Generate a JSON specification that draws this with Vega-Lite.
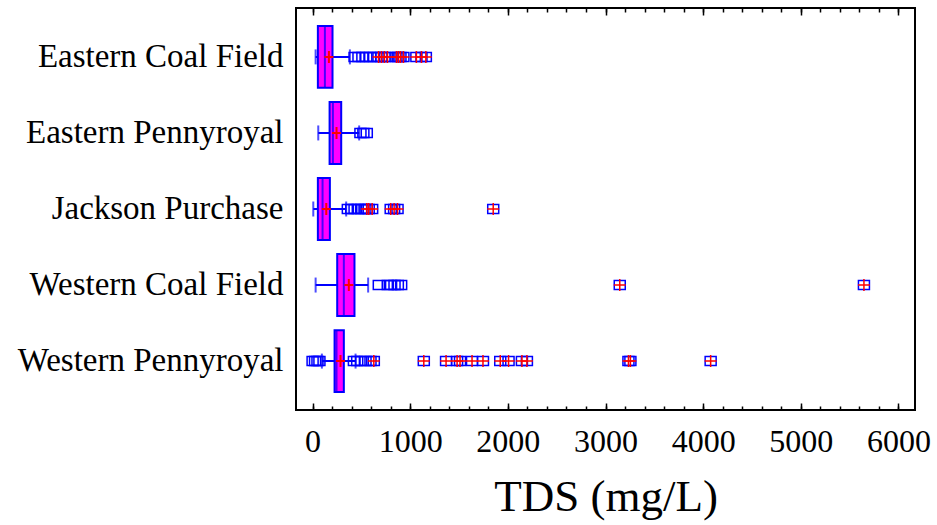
{
  "$schema": "https://vega.github.io/schema/vega-lite/v6.json",
  "width": 619,
  "height": 402,
  "autosize": {"type": "none"},
  "padding": {"left": 296, "top": 8, "right": 22, "bottom": 115},
  "background": "white",
  "config": {
    "font": "Liberation Serif",
    "axis": {"labelFont": "Liberation Serif", "titleFont": "Liberation Serif", "labelColor": "black", "titleColor": "black", "grid": false},
    "view": {"stroke": "black", "strokeWidth": 2}
  },
  "datasets": {
    "stats": [
      {"region": "Eastern Coal Field", "lo": 31, "q1": 54, "med": 126, "q3": 204, "hi": 382, "mean": 167},
      {"region": "Eastern Pennyroyal", "lo": 58, "q1": 174, "med": 208, "q3": 293, "hi": 477, "mean": 245},
      {"region": "Jackson Purchase", "lo": 7, "q1": 54, "med": 102, "q3": 177, "hi": 344, "mean": 140},
      {"region": "Western Coal Field", "lo": 31, "q1": 252, "med": 320, "q3": 429, "hi": 569, "mean": 371},
      {"region": "Western Pennyroyal", "lo": 95, "q1": 225, "med": 245, "q3": 320, "hi": 440, "mean": 286}
    ],
    "out": [
      {"region": "Eastern Coal Field", "v": 430, "far": false},
      {"region": "Eastern Coal Field", "v": 470, "far": false},
      {"region": "Eastern Coal Field", "v": 510, "far": false},
      {"region": "Eastern Coal Field", "v": 550, "far": false},
      {"region": "Eastern Coal Field", "v": 590, "far": false},
      {"region": "Eastern Coal Field", "v": 630, "far": false},
      {"region": "Eastern Coal Field", "v": 675, "far": true},
      {"region": "Eastern Coal Field", "v": 705, "far": true},
      {"region": "Eastern Coal Field", "v": 736, "far": true},
      {"region": "Eastern Coal Field", "v": 767, "far": true},
      {"region": "Eastern Coal Field", "v": 859, "far": true},
      {"region": "Eastern Coal Field", "v": 879, "far": true},
      {"region": "Eastern Coal Field", "v": 900, "far": true},
      {"region": "Eastern Coal Field", "v": 930, "far": true},
      {"region": "Eastern Coal Field", "v": 1063, "far": true},
      {"region": "Eastern Coal Field", "v": 1115, "far": true},
      {"region": "Eastern Coal Field", "v": 1160, "far": true},
      {"region": "Eastern Pennyroyal", "v": 490, "far": false},
      {"region": "Eastern Pennyroyal", "v": 520, "far": false},
      {"region": "Eastern Pennyroyal", "v": 555, "far": false},
      {"region": "Jackson Purchase", "v": 361, "far": false},
      {"region": "Jackson Purchase", "v": 396, "far": false},
      {"region": "Jackson Purchase", "v": 430, "far": false},
      {"region": "Jackson Purchase", "v": 463, "far": false},
      {"region": "Jackson Purchase", "v": 498, "far": false},
      {"region": "Jackson Purchase", "v": 532, "far": false},
      {"region": "Jackson Purchase", "v": 555, "far": true},
      {"region": "Jackson Purchase", "v": 575, "far": true},
      {"region": "Jackson Purchase", "v": 610, "far": true},
      {"region": "Jackson Purchase", "v": 800, "far": true},
      {"region": "Jackson Purchase", "v": 835, "far": true},
      {"region": "Jackson Purchase", "v": 870, "far": true},
      {"region": "Jackson Purchase", "v": 1850, "far": true},
      {"region": "Western Coal Field", "v": 678, "far": false},
      {"region": "Western Coal Field", "v": 770, "far": false},
      {"region": "Western Coal Field", "v": 804, "far": false},
      {"region": "Western Coal Field", "v": 839, "far": false},
      {"region": "Western Coal Field", "v": 873, "far": false},
      {"region": "Western Coal Field", "v": 907, "far": false},
      {"region": "Western Coal Field", "v": 3146, "far": true},
      {"region": "Western Coal Field", "v": 5647, "far": true},
      {"region": "Western Pennyroyal", "v": 0, "far": false},
      {"region": "Western Pennyroyal", "v": 25, "far": false},
      {"region": "Western Pennyroyal", "v": 50, "far": false},
      {"region": "Western Pennyroyal", "v": 70, "far": false},
      {"region": "Western Pennyroyal", "v": 423, "far": false},
      {"region": "Western Pennyroyal", "v": 457, "far": false},
      {"region": "Western Pennyroyal", "v": 498, "far": false},
      {"region": "Western Pennyroyal", "v": 542, "far": false},
      {"region": "Western Pennyroyal", "v": 593, "far": false},
      {"region": "Western Pennyroyal", "v": 627, "far": true},
      {"region": "Western Pennyroyal", "v": 1139, "far": true},
      {"region": "Western Pennyroyal", "v": 1367, "far": true},
      {"region": "Western Pennyroyal", "v": 1480, "far": true},
      {"region": "Western Pennyroyal", "v": 1510, "far": true},
      {"region": "Western Pennyroyal", "v": 1633, "far": true},
      {"region": "Western Pennyroyal", "v": 1745, "far": true},
      {"region": "Western Pennyroyal", "v": 1922, "far": true},
      {"region": "Western Pennyroyal", "v": 2007, "far": true},
      {"region": "Western Pennyroyal", "v": 2144, "far": true},
      {"region": "Western Pennyroyal", "v": 2195, "far": true},
      {"region": "Western Pennyroyal", "v": 3235, "far": true},
      {"region": "Western Pennyroyal", "v": 3255, "far": true},
      {"region": "Western Pennyroyal", "v": 4077, "far": true}
    ]
  },
  "encoding": {
    "y": {
      "field": "region", "type": "nominal",
      "scale": {"domain": ["Eastern Coal Field", "Eastern Pennyroyal", "Jackson Purchase", "Western Coal Field", "Western Pennyroyal"], "paddingInner": 0.186, "paddingOuter": 0.236},
      "axis": {"title": null, "ticks": false, "domain": false, "labelFontSize": 33, "labelPadding": 13, "labelLimit": 400}
    }
  },
  "resolve": {"axis": {"x": "independent"}},
  "layer": [
    {
      "data": {"name": "stats"},
      "mark": {"type": "rule", "color": "#0000ff", "strokeWidth": 2},
      "encoding": {
        "x": {"field": "lo", "type": "quantitative", "scale": {"domain": [-170, 6170], "nice": false, "zero": false},
          "axis": {"orient": "bottom", "title": null, "labels": false, "domain": false, "ticks": true, "tickSize": 7, "tickWidth": 1.5, "tickColor": "black", "offset": -7,
            "values": [0, 1000, 2000, 3000, 4000, 5000, 6000]}},
        "x2": {"field": "hi"}
      }
    },
    {
      "data": {"name": "stats"},
      "mark": {"type": "bar", "fill": "#ff00ff", "stroke": "#0000ff", "strokeWidth": 2},
      "encoding": {
        "x": {"field": "q1", "type": "quantitative", "scale": {"domain": [-170, 6170], "nice": false, "zero": false},
          "axis": {"orient": "bottom", "title": "TDS (mg/L)", "titleFontSize": 45, "titleFontWeight": "normal", "titleBaseline": "alphabetic", "titleY": 100,
            "format": "d", "labelFontSize": 32, "labelPadding": 16, "labelFlush": false, "labelOverlap": false, "ticks": false, "domain": false,
            "values": [0, 1000, 2000, 3000, 4000, 5000, 6000]}},
        "x2": {"field": "q3"}
      }
    },
    {
      "data": {"name": "stats"},
      "mark": {"type": "tick", "color": "#0000ff", "size": 62, "thickness": 2},
      "encoding": {
        "x": {"field": "med", "type": "quantitative", "scale": {"domain": [-170, 6170], "nice": false, "zero": false},
          "axis": {"orient": "bottom", "title": null, "labels": false, "domain": false, "ticks": true, "tickSize": 4, "tickWidth": 1.5, "tickColor": "black", "offset": -4,
            "values": [0, 200, 400, 600, 800, 1000, 1200, 1400, 1600, 1800, 2000, 2200, 2400, 2600, 2800, 3000, 3200, 3400, 3600, 3800, 4000, 4200, 4400, 4600, 4800, 5000, 5200, 5400, 5600, 5800, 6000]}}
      }
    },
    {
      "data": {"name": "stats"},
      "mark": {"type": "tick", "color": "#0000ff", "size": 15, "thickness": 2},
      "encoding": {
        "x": {"field": "lo", "type": "quantitative", "scale": {"domain": [-170, 6170], "nice": false, "zero": false},
          "axis": {"orient": "top", "title": null, "labels": false, "domain": false, "ticks": true, "tickSize": 7, "tickWidth": 1.5, "tickColor": "black", "offset": -7,
            "values": [0, 1000, 2000, 3000, 4000, 5000, 6000]}}
      }
    },
    {
      "data": {"name": "stats"},
      "mark": {"type": "tick", "color": "#0000ff", "size": 15, "thickness": 2},
      "encoding": {
        "x": {"field": "hi", "type": "quantitative", "scale": {"domain": [-170, 6170], "nice": false, "zero": false},
          "axis": {"orient": "top", "title": null, "labels": false, "domain": false, "ticks": true, "tickSize": 4, "tickWidth": 1.5, "tickColor": "black", "offset": -4,
            "values": [0, 200, 400, 600, 800, 1000, 1200, 1400, 1600, 1800, 2000, 2200, 2400, 2600, 2800, 3000, 3200, 3400, 3600, 3800, 4000, 4200, 4400, 4600, 4800, 5000, 5200, 5400, 5600, 5800, 6000]}}
      }
    },
    {
      "data": {"name": "out"},
      "mark": {"type": "point", "shape": "M-1,-0.82H1V0.82H-1Z", "filled": false, "stroke": "#0000ff", "strokeWidth": 1.5, "size": 121, "opacity": 1},
      "encoding": {
        "x": {"field": "v", "type": "quantitative", "scale": {"domain": [-170, 6170], "nice": false, "zero": false}, "axis": null}
      }
    },
    {
      "data": {"name": "out"},
      "transform": [{"filter": "datum.far"}],
      "mark": {"type": "point", "shape": "M-1,0H1M0,-1V1", "filled": false, "stroke": "#ff0000", "strokeWidth": 1.5, "size": 144, "opacity": 1},
      "encoding": {
        "x": {"field": "v", "type": "quantitative", "scale": {"domain": [-170, 6170], "nice": false, "zero": false}, "axis": null}
      }
    },
    {
      "data": {"name": "stats"},
      "mark": {"type": "point", "shape": "M-0.75,0H0.75M0,-1V1", "filled": false, "stroke": "#ff0000", "strokeWidth": 2, "size": 144, "opacity": 1},
      "encoding": {
        "x": {"field": "mean", "type": "quantitative", "scale": {"domain": [-170, 6170], "nice": false, "zero": false}, "axis": null}
      }
    }
  ]
}
